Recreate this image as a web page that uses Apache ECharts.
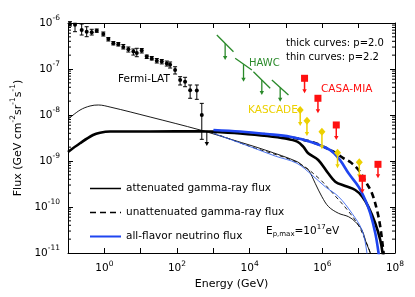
<!DOCTYPE html>
<html><head><meta charset="utf-8">
<script src="https://cdn.jsdelivr.net/npm/echarts@6/dist/echarts.min.js"></script>
<style>html,body{margin:0;padding:0;background:#fff}#c{width:415px;height:297px}</style>
</head><body><div id="c"></div>
<script>
// ---------- axis ranges / tick labels ----------
const xRange = [0.1, 1e8];
const yRange = [1e-11, 1e-6];
const xLabelExps = [0, 2, 4, 6, 8];
const yLabelExps = [-11, -10, -9, -8, -7, -6];

// ---------- model curves (Energy GeV, E^2 Flux) ----------
const attThickE = [0.1, 0.214, 0.489, 0.762, 1.44, 18.2, 433, 986, 5470, 30300, 95000, 204000, 298000, 409000, 771000, 1.45e6, 2.27e6, 4.27e6, 8.05e6, 1.26e7, 1.84e7, 2.86e7, 3.93e7, 4.55e7, 4.76e7];
const attThickF = [1.57e-9, 2.43e-9, 3.67e-9, 4.12e-9, 4.37e-9, 4.37e-9, 4.45e-9, 4.34e-9, 3.96e-9, 3.49e-9, 3.08e-9, 2.63e-9, 2.05e-9, 1.47e-9, 1.05e-9, 5.4e-10, 3.55e-10, 2.86e-10, 2.34e-10, 1.68e-10, 1.02e-10, 4.43e-11, 1.92e-11, 1.0e-11, 7e-12];

const attThinE = [0.1, 0.214, 0.404, 0.684, 1.44, 18.2, 433, 3510, 26700, 204000, 303000, 417000, 637000, 975000, 1.48e6, 2.79e6, 5.27e6, 8.05e6, 1.23e7, 1.62e7, 2.09e7, 2.22e7];
const attThinF = [8.07e-9, 1.28e-8, 1.57e-8, 1.65e-8, 1.49e-8, 9.05e-9, 4.72e-9, 2.86e-9, 1.73e-9, 9.65e-10, 7.52e-10, 6.37e-10, 3.27e-10, 1.67e-10, 1.02e-10, 7.3e-11, 6.15e-11, 4.79e-11, 3.16e-11, 1.65e-11, 1.0e-11, 7e-12];

const unattThickE = [1010, 29800, 465000, 2.04e6, 3.77e6, 5.87e6, 9.94e6, 1.52e7, 2.32e7, 3.19e7, 3.93e7, 4.85e7, 5.07e7];
const unattThickF = [4.49e-9, 3.77e-9, 2.66e-9, 1.59e-9, 1.16e-9, 9.5e-10, 6.37e-10, 3.67e-10, 1.99e-10, 8.6e-11, 3.73e-11, 1.0e-11, 7e-12];

const unattThinE = [1010, 10300, 204000, 785000, 2.27e6, 5.16e6, 9.74e6, 1.52e7, 2.09e7, 2.22e7];
const unattThinF = [4.07e-9, 2.07e-9, 9.27e-10, 4.27e-10, 1.73e-10, 8.2e-11, 4.06e-11, 1.92e-11, 1.0e-11, 7e-12];

const nuThickE = [1010, 5470, 29800, 131000, 465000, 1.65e6, 3.11e6, 5.27e6, 9.94e6, 1.52e7, 2.09e7, 2.87e7, 3.53e7, 3.69e7];
const nuThickF = [4.72e-9, 4.37e-9, 3.86e-9, 3.38e-9, 2.63e-9, 1.73e-9, 1.03e-9, 5.4e-10, 2.76e-10, 1.42e-10, 7.3e-11, 2.68e-11, 1.0e-11, 7e-12];

const nuThinE = [1010, 10300, 50400, 200000, 517000, 1.2e6, 2.79e6, 6.53e6, 1.23e7, 1.69e7, 1.73e7];
const nuThinF = [4.0e-9, 2.05e-9, 1.28e-9, 8.91e-10, 4.96e-10, 2.76e-10, 1.68e-10, 7.3e-11, 3.16e-11, 1.0e-11, 7e-12];

// ---------- Fermi-LAT ----------
const fermiE = [0.1135, 0.156, 0.238, 0.327, 0.450, 0.618, 0.938, 1.29, 1.77, 2.43, 3.33, 4.58, 6.30, 7.82, 10.7, 14.7, 20.2, 27.8, 38.1, 52.4, 64.6, 88.7, 122, 167, 230, 351, 481];
const fermiF = [9.55e-7, 9.12e-7, 7.08e-7, 6.46e-7, 6.31e-7, 6.76e-7, 5.75e-7, 4.47e-7, 3.63e-7, 3.47e-7, 3.02e-7, 2.69e-7, 2.40e-7, 2.24e-7, 2.51e-7, 1.86e-7, 1.70e-7, 1.51e-7, 1.45e-7, 1.32e-7, 1.23e-7, 9.55e-8, 5.75e-8, 5.25e-8, 3.47e-8, 3.39e-8, 1.0e-8];
const fermiHi = [1.07e-6, 9.85e-7, 9.5e-7, 8.3e-7, 7.3e-7, 7.4e-7, 6.37e-7, 4.84e-7, 3.96e-7, 3.77e-7, 3.41e-7, 3.01e-7, 2.72e-7, 2.82e-7, 2.79e-7, 2.01e-7, 1.87e-7, 1.69e-7, 1.61e-7, 1.49e-7, 1.42e-7, 1.12e-7, 6.81e-8, 6.6e-8, 4.49e-8, 4.49e-8, 1.79e-8];
const fermiLo = [8.6e-7, 6.47e-7, 5.48e-7, 5.04e-7, 5.48e-7, 6.28e-7, 5.21e-7, 4.06e-7, 3.33e-7, 3.16e-7, 2.72e-7, 2.34e-7, 2.01e-7, 1.85e-7, 2.23e-7, 1.69e-7, 1.57e-7, 1.35e-7, 1.29e-7, 1.16e-7, 1.05e-7, 7.78e-8, 4.49e-8, 4.12e-8, 2.31e-8, 2.19e-8, 2.96e-9];
const fermiUlE = [662];
const fermiUlTop = [4.49e-9];
const fermiUlTip = [2.12e-9];

// ---------- HAWC (segment E1,F1 -> E2,F2; arrow tip) ----------
const hawcE1 = [1247, 3990, 12700, 40900];
const hawcF1 = [5.48e-7, 1.71e-7, 8.73e-8, 5.77e-8];
const hawcE2 = [3581, 11500, 36700, 117000];
const hawcF2 = [2.38e-7, 9.5e-8, 3.80e-8, 2.72e-8];
const hawcTip = [1.56e-7, 5.30e-8, 2.72e-8, 1.95e-8];

// ---------- KASCADE ----------
const kasE = [2.46e5, 3.77e5, 9.75e5, 2.62e6, 1.04e7];
const kasF = [1.29e-8, 7.52e-9, 4.34e-9, 1.51e-9, 9.38e-10];
const kasTip = [5.77e-9, 3.49e-9, 1.79e-9, 6.93e-10, 4.21e-10];

// ---------- CASA-MIA ----------
const casaE = [3.24e5, 7.57e5, 2.42e6, 1.26e7, 3.40e7];
const casaF = [6.28e-8, 2.31e-8, 6.07e-9, 4.21e-10, 8.47e-10];
const casaTip = [2.96e-8, 1.09e-8, 2.86e-9, 1.99e-10, 4.21e-10];

// ---------- styling ----------
const FONT = 'DejaVu Sans';
const BLUE = '#1f45f0';
const BLUE_THIN = '#3a66ee';
const GREEN = '#2a8a2a';
const YELLOW = '#ecd000';
const RED = '#ff1010';

const zip = (a, b) => a.map((v, i) => [v, b[i]]);

function expLabel(v, evenOnly) {
  const e = Math.round(Math.log10(v));
  if (evenOnly && e % 2 !== 0) return '';
  return '{b|10}{s|' + e + '}';
}
const richTick = {
  b: { fontFamily: FONT, fontSize: 10.5, color: '#000' },
  s: { fontFamily: FONT, fontSize: 7.5, color: '#000', padding: [0, 0, 9, 0] }
};

function arrowRender(color, lw) {
  return function (params, api) {
    const x = api.value(0), top = api.value(1), tip = api.value(2);
    const a = api.coord([x, top]), b = api.coord([x, tip]);
    const h = 4, w = 2.2;
    return { type: 'group', children: [
      { type: 'line', shape: { x1: a[0], y1: a[1], x2: b[0], y2: b[1] - h + 0.5 }, style: { stroke: color, lineWidth: lw } },
      { type: 'polygon', shape: { points: [[b[0] - w, b[1] - h], [b[0] + w, b[1] - h], [b[0], b[1]]] }, style: { fill: color } }
    ] };
  };
}

function errRender(params, api) {
  const x = api.value(0), lo = api.value(1), hi = api.value(2);
  const a = api.coord([x, lo]), b = api.coord([x, hi]);
  const c = 2;
  const st = { stroke: '#000', lineWidth: 1 };
  return { type: 'group', children: [
    { type: 'line', shape: { x1: a[0], y1: a[1], x2: b[0], y2: b[1] }, style: st },
    { type: 'line', shape: { x1: a[0] - c, y1: a[1], x2: a[0] + c, y2: a[1] }, style: st },
    { type: 'line', shape: { x1: b[0] - c, y1: b[1], x2: b[0] + c, y2: b[1] }, style: st }
  ] };
}

function hawcRender(params, api) {
  const e1 = api.value(0), f1 = api.value(1), e2 = api.value(2), f2 = api.value(3), tip = api.value(4);
  const p1 = api.coord([e1, f1]), p2 = api.coord([e2, f2]);
  const em = Math.sqrt(e1 * e2);
  const m = [(p1[0] + p2[0]) / 2, (p1[1] + p2[1]) / 2];
  const t = api.coord([em, tip]);
  const h = 4, w = 2.2;
  return { type: 'group', children: [
    { type: 'line', shape: { x1: p1[0], y1: p1[1], x2: p2[0], y2: p2[1] }, style: { stroke: GREEN, lineWidth: 1.3 } },
    { type: 'line', shape: { x1: m[0], y1: m[1], x2: t[0], y2: t[1] - h + 0.5 }, style: { stroke: GREEN, lineWidth: 1.3 } },
    { type: 'polygon', shape: { points: [[t[0] - w, t[1] - h], [t[0] + w, t[1] - h], [t[0], t[1]]] }, style: { fill: GREEN } }
  ] };
}

// log minor ticks on left/right y axes (values 2..9 x 10^n)
function minorRender(params, api) {
  const ch = [];
  const eMin = Math.round(Math.log10(yRange[0])), eMax = Math.round(Math.log10(yRange[1]));
  for (let e = eMin; e < eMax; e++) {
    for (let k = 2; k <= 9; k++) {
      const v = k * Math.pow(10, e);
      const l = api.coord([xRange[0], v]), r = api.coord([xRange[1], v]);
      ch.push({ type: 'line', shape: { x1: l[0], y1: l[1], x2: l[0] + 3, y2: l[1] }, style: { stroke: '#000', lineWidth: 1 } });
      ch.push({ type: 'line', shape: { x1: r[0] - 3, y1: r[1], x2: r[0], y2: r[1] }, style: { stroke: '#000', lineWidth: 1 } });
    }
  }
  return { type: 'group', children: ch };
}

const axisCommon = {
  axisLine: { lineStyle: { color: '#000', width: 1 } },
  axisTick: { inside: true, length: 5, lineStyle: { color: '#000', width: 1 } },
  splitLine: { show: false }
};

const chart = echarts.init(document.getElementById('c'), null, { renderer: 'canvas' });
chart.setOption({
  animation: false,
  backgroundColor: '#fff',
  grid: { left: 68, right: 20, top: 23, bottom: 44 },
  xAxis: [
    Object.assign({
      type: 'log', logBase: 10, min: xRange[0], max: xRange[1], interval: 1, position: 'bottom',
      name: 'Energy (GeV)', nameLocation: 'middle', nameGap: 19,
      nameTextStyle: { fontFamily: FONT, fontSize: 11, color: '#000' },
      axisLabel: { margin: 7, formatter: v => (xLabelExps.includes(Math.round(Math.log10(v))) ? expLabel(v, true) : ''), rich: richTick }
    }, axisCommon),
    Object.assign({
      type: 'log', logBase: 10, min: xRange[0], max: xRange[1], interval: 1, position: 'top',
      axisLabel: { show: false }
    }, axisCommon)
  ],
  yAxis: [
    Object.assign({
      type: 'log', logBase: 10, min: yRange[0], max: yRange[1], interval: 1, position: 'left',
      name: 'Flux (GeV cm{s|-2}sr{s|-1}s{s|-1})', nameLocation: 'middle', nameGap: 31,
      nameTextStyle: { fontFamily: FONT, fontSize: 11, color: '#000', rich: { s: { fontFamily: FONT, fontSize: 7.5, color: '#000', padding: [0, 0, 9, 0] } } },
      axisLabel: { margin: 8, formatter: v => (yLabelExps.includes(Math.round(Math.log10(v))) ? expLabel(v, false) : ''), rich: richTick }
    }, axisCommon),
    Object.assign({
      type: 'log', logBase: 10, min: yRange[0], max: yRange[1], interval: 1, position: 'right',
      axisLabel: { show: false }
    }, axisCommon)
  ],
  legend: {
    orient: 'vertical', left: 84, top: 178, itemWidth: 31, itemHeight: 10, itemGap: 13,
    selectedMode: false,
    itemStyle: { opacity: 0 },
    textStyle: { fontFamily: FONT, fontSize: 10.5, color: '#000' },
    data: [
      { name: 'attenuated gamma-ray flux', lineStyle: { width: 1.5 } },
      { name: 'unattenuated gamma-ray flux', lineStyle: { width: 1.5 } },
      { name: 'all-flavor neutrino flux', lineStyle: { width: 2 } }
    ]
  },
  graphic: [
    { type: 'text', x: 118, y: 79, style: { text: 'Fermi-LAT', font: '10.5px "DejaVu Sans"', fill: '#000', verticalAlign: 'middle' } },
    { type: 'text', x: 249, y: 63, style: { text: 'HAWC', font: '10px "DejaVu Sans"', fill: GREEN, verticalAlign: 'middle' } },
    { type: 'text', x: 286, y: 43, style: { text: 'thick curves: p=2.0', font: '10px "DejaVu Sans"', fill: '#000', verticalAlign: 'middle' } },
    { type: 'text', x: 286, y: 57, style: { text: 'thin curves: p=2.2', font: '10px "DejaVu Sans"', fill: '#000', verticalAlign: 'middle' } },
    { type: 'text', x: 321, y: 89, style: { text: 'CASA-MIA', font: '10.5px "DejaVu Sans"', fill: RED, verticalAlign: 'middle' } },
    { type: 'text', x: 248, y: 110, style: { text: 'KASCADE', font: '10.5px "DejaVu Sans"', fill: YELLOW, verticalAlign: 'middle' } },
    { type: 'text', x: 266, y: 231, style: {
      text: '{n|E}{sub|p,max}{n|=10}{sup|17}{n|eV}', verticalAlign: 'middle',
      rich: {
        n: { fontFamily: FONT, fontSize: 10.5, fill: '#000' },
        sub: { fontFamily: FONT, fontSize: 7, fill: '#000', padding: [6, 0, 0, 0] },
        sup: { fontFamily: FONT, fontSize: 7, fill: '#000', padding: [0, 0, 8, 0] }
      } } }
  ],
  series: [
    { type: 'custom', name: 'minorTicks', renderItem: minorRender, data: [[xRange[0], yRange[0]]], silent: true, z: 1 },
    { type: 'line', name: 'unattenuated gamma-ray flux', data: zip(unattThickE, unattThickF), symbol: 'none', smooth: 0.35,
      lineStyle: { color: '#000', width: 2.6, type: [6, 4] }, itemStyle: { color: '#000' }, z: 2 },
    { type: 'line', name: 'unattenuated (p=2.2)', data: zip(unattThinE, unattThinF), symbol: 'none', smooth: 0.35,
      lineStyle: { color: '#000', width: 0.9, type: [4, 3] }, itemStyle: { color: '#000' }, z: 2 },
    { type: 'line', name: 'attenuated gamma-ray flux', data: zip(attThickE, attThickF), symbol: 'none', smooth: 0.35,
      lineStyle: { color: '#000', width: 2.6 }, itemStyle: { color: '#000' }, z: 3 },
    { type: 'line', name: 'attenuated (p=2.2)', data: zip(attThinE, attThinF), symbol: 'none', smooth: 0.35,
      lineStyle: { color: '#000', width: 0.9 }, itemStyle: { color: '#000' }, z: 3 },
    { type: 'line', name: 'all-flavor neutrino flux', data: zip(nuThickE, nuThickF), symbol: 'none', smooth: 0.35,
      lineStyle: { color: BLUE, width: 2.6 }, itemStyle: { color: BLUE }, z: 4 },
    { type: 'line', name: 'neutrino (p=2.2)', data: zip(nuThinE, nuThinF), symbol: 'none', smooth: 0.35,
      lineStyle: { color: BLUE_THIN, width: 0.9 }, itemStyle: { color: BLUE_THIN }, z: 4 },
    { type: 'custom', name: 'fermiErr', renderItem: errRender, encode: { x: 0, y: [1, 2] },
      data: fermiE.map((e, i) => [e, fermiLo[i], fermiHi[i]]), z: 5 },
    { type: 'scatter', name: 'Fermi-LAT', data: zip(fermiE, fermiF), symbol: 'circle', symbolSize: 4,
      itemStyle: { color: '#000', opacity: 1 }, z: 6 },
    { type: 'custom', name: 'fermiUL', renderItem: arrowRender('#000', 1), encode: { x: 0, y: [1, 2] },
      data: fermiUlE.map((e, i) => [e, fermiUlTop[i], fermiUlTip[i]]), z: 5 },
    { type: 'custom', name: 'HAWC', renderItem: hawcRender, encode: { x: [0, 2], y: [1, 3, 4] },
      data: hawcE1.map((e, i) => [e, hawcF1[i], hawcE2[i], hawcF2[i], hawcTip[i]]), z: 5 },
    { type: 'custom', name: 'kasArrows', renderItem: arrowRender(YELLOW, 1.5), encode: { x: 0, y: [1, 2] },
      data: kasE.map((e, i) => [e, kasF[i], kasTip[i]]), z: 5 },
    { type: 'scatter', name: 'KASCADE', data: zip(kasE, kasF), symbol: 'diamond', symbolSize: [7, 8],
      itemStyle: { color: YELLOW, opacity: 1 }, z: 6 },
    { type: 'custom', name: 'casaArrows', renderItem: arrowRender(RED, 1.5), encode: { x: 0, y: [1, 2] },
      data: casaE.map((e, i) => [e, casaF[i], casaTip[i]]), z: 5 },
    { type: 'scatter', name: 'CASA-MIA', data: zip(casaE, casaF), symbol: 'rect', symbolSize: 7,
      itemStyle: { color: RED, opacity: 1 }, z: 6 }
  ]
});
</script></body></html>
